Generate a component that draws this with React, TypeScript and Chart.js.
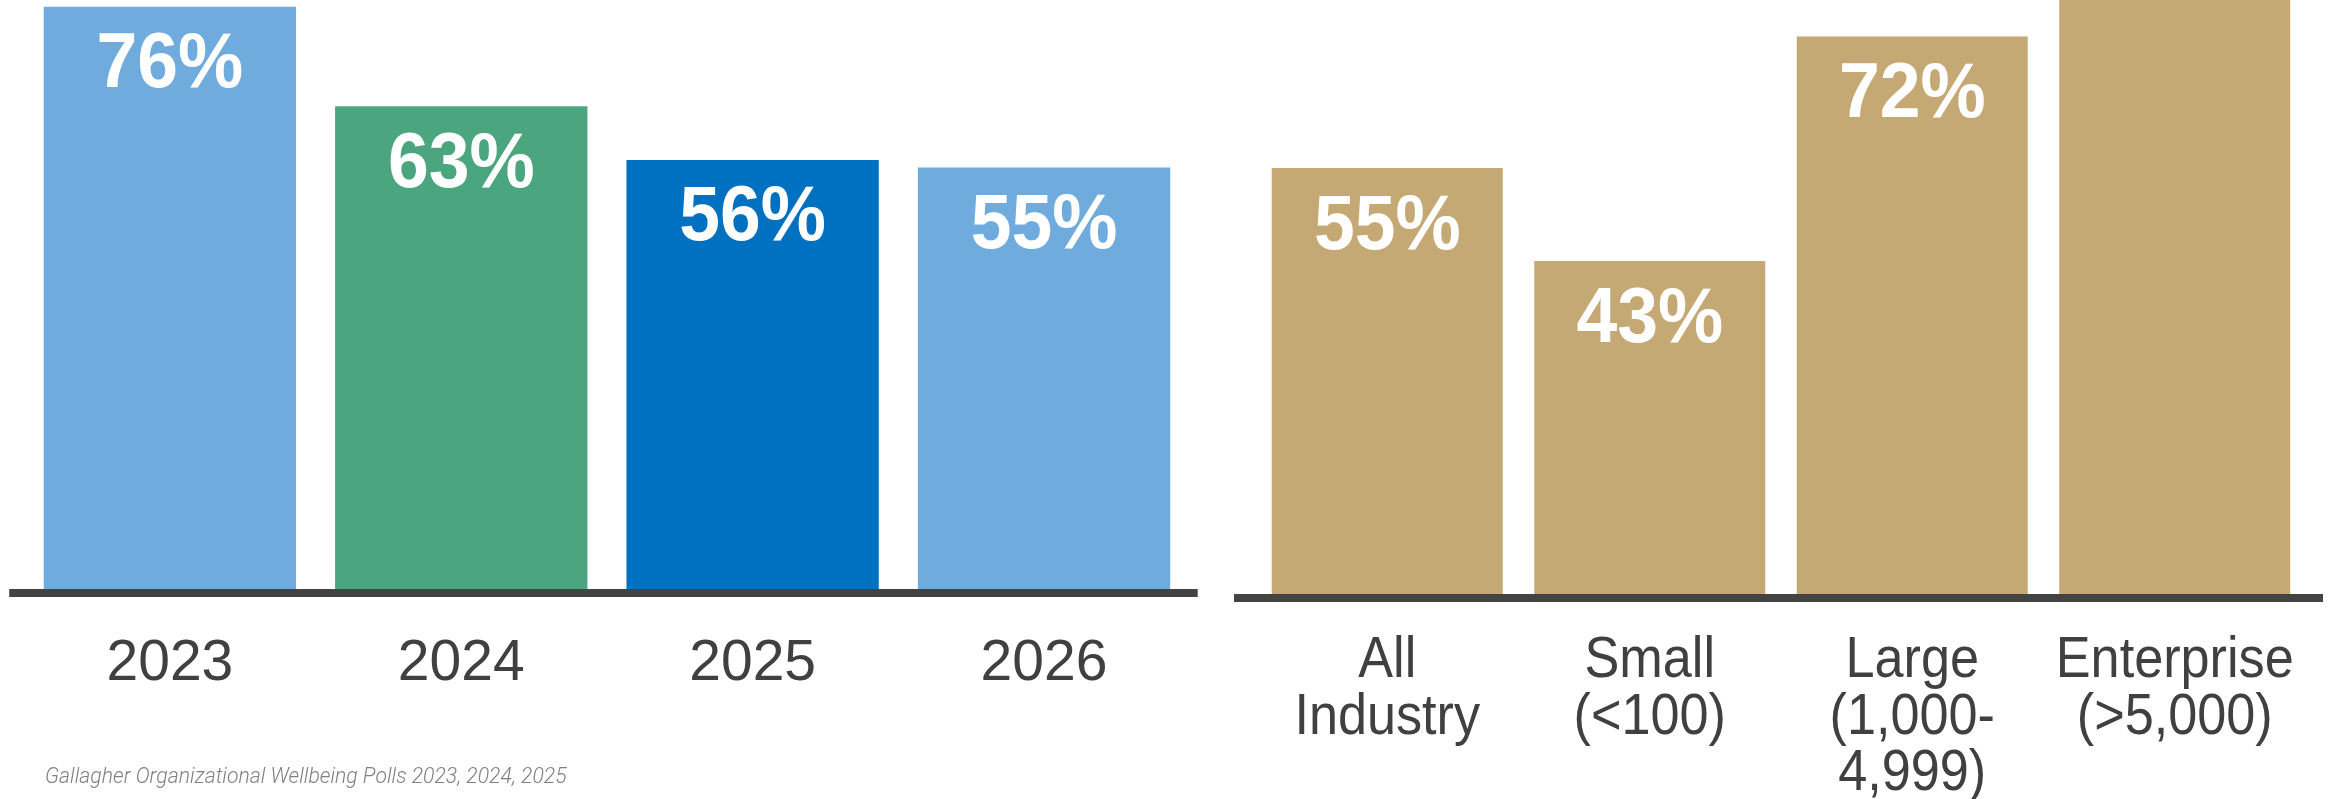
import React, { useEffect, useRef } from "react";
import { Chart, registerables } from "chart.js";

Chart.register(...registerables);

const yearLabels = ["2023", "2024", "2025", "2026"];
const yearValues = [76, 63, 56, 55];
const yearColors = ["#6FACDD", "#4BA57E", "#0070C0", "#6FACDD"];

const sizeLabels = [["All", "Industry"], ["Small", "(<100)"], ["Large", "(1,000-", "4,999)"], ["Enterprise", "(>5,000)"]];
const sizeValues = [55, 43, 72, 85];
const sizeColor = "#C5A974";

const sourceNote = "Gallagher Organizational Wellbeing Polls 2023, 2024, 2025";

const FONT = "'Liberation Sans', Arial, sans-serif";

type TickStyle = { size: number; scaleX: number; offset: number; pitch: number };

function makePlugins(extL: number, extR: number, tick: TickStyle) {
  return [
    {
      id: "baseline",
      afterDatasetsDraw(chart: any) {
        const { ctx, chartArea, scales } = chart;
        const y0 = scales.y.getPixelForValue(0);
        ctx.save();
        ctx.strokeStyle = "#434343";
        ctx.lineWidth = 8;
        ctx.beginPath();
        ctx.moveTo(chartArea.left - extL, y0 + 4);
        ctx.lineTo(chartArea.right + extR, y0 + 4);
        ctx.stroke();
        ctx.restore();
      },
    },
    {
      id: "categoryLabels",
      afterDraw(chart: any) {
        const { ctx, scales } = chart;
        const y0 = scales.y.getPixelForValue(0);
        const labels = chart.data.labels as any[];
        ctx.save();
        ctx.fillStyle = "#404040";
        ctx.font = `${tick.size}px ${FONT}`;
        ctx.textAlign = "center";
        ctx.textBaseline = "alphabetic";
        labels.forEach((lab: any, i: number) => {
          const lines = Array.isArray(lab) ? lab : [lab];
          const x = scales.x.getPixelForValue(i);
          lines.forEach((ln: string, j: number) => {
            ctx.save();
            ctx.translate(x, y0 + tick.offset + j * tick.pitch);
            ctx.scale(tick.scaleX, 1);
            ctx.fillText(ln, 0, 0);
            ctx.restore();
          });
        });
        ctx.restore();
      },
    },
    {
      id: "valueLabels",
      afterDatasetsDraw(chart: any) {
        const { ctx, scales } = chart;
        const meta = chart.getDatasetMeta(0);
        const data = chart.data.datasets[0].data as number[];
        ctx.save();
        ctx.fillStyle = "#FFFFFF";
        ctx.font = `bold 78px ${FONT}`;
        ctx.textAlign = "center";
        ctx.textBaseline = "middle";
        meta.data.forEach((bar: any, i: number) => {
          if (data[i] > scales.y.max) return;
          ctx.save();
          ctx.translate(bar.x, bar.y + 59);
          ctx.scale(0.94, 1);
          ctx.fillText(`${data[i]}%`, 0, 0);
          ctx.restore();
        });
        ctx.restore();
      },
    },
  ];
}

function BarPanel(props: {
  width: number;
  labels: any[];
  values: number[];
  colors: string | string[];
  yMax: number;
  axisHeight: number;
  padL: number;
  padR: number;
  barPct: number;
  tick: TickStyle;
  extL: number;
  extR: number;
}) {
  const ref = useRef<HTMLCanvasElement>(null);
  useEffect(() => {
    if (!ref.current) return;
    const chart = new Chart(ref.current, {
      type: "bar",
      data: {
        labels: props.labels,
        datasets: [
          {
            data: props.values,
            backgroundColor: props.colors,
            borderWidth: 0,
            barPercentage: props.barPct,
            categoryPercentage: 1,
          },
        ],
      },
      options: {
        responsive: false,
        animation: false,
        devicePixelRatio: 1,
        layout: { padding: { left: props.padL, right: props.padR, top: 0, bottom: 0 } },
        plugins: { legend: { display: false }, tooltip: { enabled: false }, title: { display: false } },
        scales: {
          x: {
            grid: { display: false, drawTicks: false },
            border: { display: false },
            ticks: { display: false },
            afterFit: (scale: any) => {
              scale.height = props.axisHeight;
            },
          },
          y: { display: false, min: 0, max: props.yMax },
        },
      },
      plugins: makePlugins(props.extL, props.extR, props.tick),
    } as any);
    return () => chart.destroy();
  }, []);
  return <canvas ref={ref} width={props.width} height={799} style={{ width: props.width, height: 799, display: "block" }} />;
}

export default function App() {
  return (
    <div style={{ position: "fixed", left: 0, top: 0, width: 2335, height: 799, background: "#fff", overflow: "hidden" }}>
      <div style={{ position: "absolute", left: 0, top: 0 }}>
        <BarPanel
          width={1210}
          labels={yearLabels}
          values={yearValues}
          colors={yearColors}
          yMax={76.87}
          axisHeight={210}
          padL={24.2}
          padR={20.3}
          barPct={0.866}
          tick={{ size: 57, scaleX: 1, offset: 91, pitch: 0 }}
          extL={15}
          extR={8}
        />
      </div>
      <div style={{ position: "absolute", left: 1210, top: 0 }}>
        <BarPanel
          width={1125}
          labels={sizeLabels}
          values={sizeValues}
          colors={sizeColor}
          yMax={76.7}
          axisHeight={205}
          padL={46}
          padR={29}
          barPct={0.88}
          tick={{ size: 58, scaleX: 0.9, offset: 83, pitch: 56.6 }}
          extL={22}
          extR={17}
        />
      </div>
      <div
        style={{
          position: "absolute",
          left: 45,
          top: 763,
          fontFamily: "Roboto, 'Liberation Sans', sans-serif",
          fontStyle: "italic",
          fontWeight: 300,
          fontSize: 22,
          color: "#808080",
          whiteSpace: "nowrap",
          transform: "scaleX(0.963)",
          transformOrigin: "left top",
        }}
      >
        {sourceNote}
      </div>
    </div>
  );
}
